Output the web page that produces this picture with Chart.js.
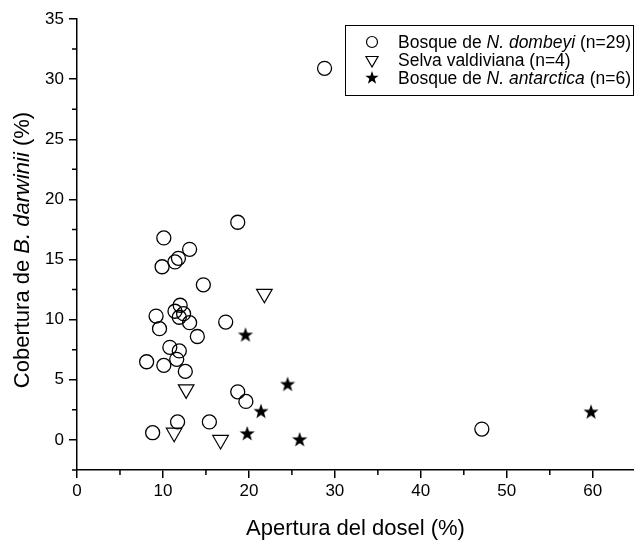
<!DOCTYPE html>
<html>
<head>
<meta charset="utf-8">
<script src="https://cdn.jsdelivr.net/npm/chart.js@4"></script>
<style>
  html, body { margin: 0; padding: 0; background: #fff; }
  canvas { display: block; }
</style>
</head>
<body>
<canvas id="myChart" width="634" height="542"></canvas>
<script>
// Bosque de N. dombeyi (n=29)
let dombeyiX = [28.8, 47.1, 18.7, 10.1, 13.1, 11.8, 11.4, 9.9, 14.7, 12.0, 11.4, 12.4, 11.9, 9.2, 9.6,
                13.1, 17.3, 14.0, 10.8, 11.9, 11.6, 8.1, 10.1, 12.6, 11.7, 8.8, 15.4, 18.7, 19.65];
let dombeyiY = [30.9, 0.9, 18.1, 16.8, 15.85, 15.1, 14.8, 14.4, 12.9, 11.2, 10.7, 10.5, 10.2, 10.3, 9.25,
                9.75, 9.8, 8.6, 7.7, 7.4, 6.7, 6.5, 6.2, 5.7, 1.5, 0.6, 1.5, 4.0, 3.2];
// Selva valdiviana (n=4)
let selvaX = [21.8, 12.7, 11.3, 16.7];
let selvaY = [12.15, 4.2, 0.6, 0.0];
// Bosque de N. antarctica (n=6)
let antarcticaX = [19.6, 24.5, 21.4, 19.8, 25.9, 59.8];
let antarcticaY = [8.7, 4.6, 2.35, 0.5, 0.0, 2.3];

let xTicks = [0, 10, 20, 30, 40, 50, 60];
let xMinor = [5, 15, 25, 35, 45, 55];
let yTicks = [0, 5, 10, 15, 20, 25, 30, 35];
let yMinor = [-2.5, 2.5, 7.5, 12.5, 17.5, 22.5, 27.5, 32.5];

let fontFamily = '"Liberation Sans", Arial, sans-serif';

function toPoints(xs, ys) {
    return xs.map((x, i) => ({ x: x, y: ys[i] }));
}

// filled five-pointed star used as point style
function makeStar(outer) {
    let size = Math.ceil(outer * 2 + 2);
    let c = document.createElement('canvas');
    c.width = size;
    c.height = size;
    let g = c.getContext('2d');
    let inner = outer * 0.4;
    g.beginPath();
    for (let i = 0; i < 10; i++) {
        let r = i % 2 === 0 ? outer : inner;
        let a = -Math.PI / 2 + i * Math.PI / 5;
        let px = size / 2 + r * Math.cos(a);
        let py = size / 2 + r * Math.sin(a);
        if (i === 0) g.moveTo(px, py); else g.lineTo(px, py);
    }
    g.closePath();
    g.fillStyle = '#000';
    g.fill();
    return c;
}
let starBig = makeStar(8);
let starSmall = makeStar(7);

// minor ticks on both axes
const minorTicks = {
    id: 'minorTicks',
    afterDraw(chart) {
        let ctx = chart.ctx;
        let xs = chart.scales.x, ys = chart.scales.y;
        ctx.save();
        ctx.strokeStyle = '#000';
        ctx.lineWidth = 1.5;
        ctx.beginPath();
        xMinor.forEach(v => {
            let p = xs.getPixelForValue(v);
            ctx.moveTo(p, xs.top);
            ctx.lineTo(p, xs.top + 5);
        });
        yMinor.forEach(v => {
            let p = ys.getPixelForValue(v);
            ctx.moveTo(ys.right, p);
            ctx.lineTo(ys.right - 5, p);
        });
        ctx.stroke();
        ctx.restore();
    }
};

function drawSegments(ctx, segs, x, y, size) {
    segs.forEach(s => {
        ctx.font = (s[1] ? 'italic ' : '') + size + 'px ' + fontFamily;
        ctx.fillText(s[0], x, y);
        x += ctx.measureText(s[0]).width;
    });
}
function segWidth(ctx, segs, size) {
    let w = 0;
    segs.forEach(s => {
        ctx.font = (s[1] ? 'italic ' : '') + size + 'px ' + fontFamily;
        w += ctx.measureText(s[0]).width;
    });
    return w;
}

// y title with italic species name, and the boxed legend
const labelsPlugin = {
    id: 'labelsPlugin',
    afterDraw(chart) {
        let ctx = chart.ctx;
        ctx.save();
        ctx.fillStyle = '#000';
        ctx.textBaseline = 'alphabetic';
        ctx.textAlign = 'left';

        let ySegs = [['Cobertura de ', false], ['B. darwinii', true], [' (%)', false]];
        let w = segWidth(ctx, ySegs, 22);
        ctx.save();
        ctx.translate(29, 250);
        ctx.rotate(-Math.PI / 2);
        drawSegments(ctx, ySegs, -w / 2, 0, 22);
        ctx.restore();

        // legend
        ctx.strokeStyle = '#000';
        ctx.lineWidth = 1;
        ctx.strokeRect(345.5, 25.5, 288, 70);
        let rows = [
            { y: 42, segs: [['Bosque de ', false], ['N. dombeyi', true], [' (n=29)', false]], style: 'circle', r: 5.5 },
            { y: 60, segs: [['Selva valdiviana (n=4)', false]], style: 'triangle', r: 7 },
            { y: 78, segs: [['Bosque de ', false], ['N. antarctica', true], [' (n=6)', false]], style: starSmall, r: 7 }
        ];
        rows.forEach(row => {
            ctx.strokeStyle = '#000';
            ctx.fillStyle = 'rgba(0,0,0,0)';
            ctx.lineWidth = 1.2;
            Chart.helpers.drawPoint(ctx, {
                pointStyle: row.style,
                rotation: row.style === 'triangle' ? 180 : 0,
                radius: row.r,
                borderWidth: 1.2
            }, 372, row.y);
            ctx.fillStyle = '#000';
            drawSegments(ctx, row.segs, 398, row.y + 6, 17.5);
        });
        ctx.restore();
    }
};

let ctx = document.getElementById('myChart').getContext('2d');
let myChart = new Chart(ctx, {
    type: 'scatter',
    data: {
        datasets: [{
            label: 'Bosque de N. dombeyi (n=29)',
            data: toPoints(dombeyiX, dombeyiY),
            pointStyle: 'circle',
            pointRadius: 7,
            backgroundColor: 'rgba(0,0,0,0)',
            borderColor: '#000',
            borderWidth: 1.3
        }, {
            label: 'Selva valdiviana (n=4)',
            data: toPoints(selvaX, selvaY),
            pointStyle: 'triangle',
            rotation: 180,
            pointRadius: 9,
            backgroundColor: 'rgba(0,0,0,0)',
            borderColor: '#000',
            borderWidth: 1.2
        }, {
            label: 'Bosque de N. antarctica (n=6)',
            data: toPoints(antarcticaX, antarcticaY),
            pointStyle: starBig,
            pointRadius: 8,
            backgroundColor: '#000',
            borderColor: '#000'
        }]
    },
    options: {
        responsive: false,
        animation: false,
        devicePixelRatio: 1,
        layout: { autoPadding: false, padding: { top: 19, right: 0, left: 0, bottom: 0 } },
        plugins: {
            legend: { display: false },
            tooltip: { enabled: false }
        },
        scales: {
            x: {
                type: 'linear',
                min: 0,
                max: 64.8,
                afterBuildTicks: s => { s.ticks = xTicks.map(v => ({ value: v })); },
                afterFit: s => { s.height = 72; s.paddingLeft = 0; s.paddingRight = 0; },
                grid: { drawOnChartArea: false, drawTicks: true, tickLength: 8, color: '#000', lineWidth: 1.5 },
                border: { display: true, color: '#000', width: 1.5 },
                ticks: { color: '#000', padding: 3, maxRotation: 0, font: { family: fontFamily, size: 17 } },
                title: {
                    display: true,
                    text: 'Apertura del dosel (%)',
                    color: '#000',
                    font: { family: fontFamily, size: 22 },
                    padding: { top: 10, bottom: 0 }
                }
            },
            y: {
                type: 'linear',
                min: -2.5,
                max: 35,
                afterBuildTicks: s => { s.ticks = yTicks.map(v => ({ value: v })); },
                afterFit: s => { s.width = 77; s.paddingTop = 0; s.paddingBottom = 0; },
                grid: { drawOnChartArea: false, drawTicks: true, tickLength: 8, color: '#000', lineWidth: 1.5 },
                border: { display: true, color: '#000', width: 1.5 },
                ticks: { color: '#000', padding: 5, font: { family: fontFamily, size: 17 } }
            }
        }
    },
    plugins: [minorTicks, labelsPlugin]
});
</script>
</body>
</html>
